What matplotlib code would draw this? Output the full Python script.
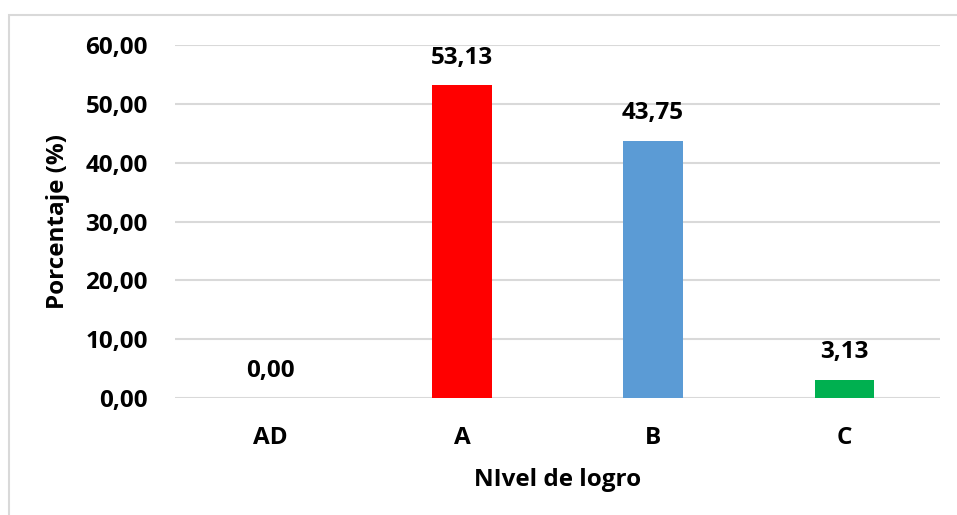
import matplotlib
matplotlib.use("Agg")
import matplotlib.pyplot as plt
from matplotlib.patches import Rectangle

categories = ["AD", "A", "B", "C"]
values = [0.00, 53.13, 43.75, 3.13]
colors = ["#FF0000", "#FF0000", "#5B9BD5", "#00B050"]
yticks = [0, 10, 20, 30, 40, 50, 60]

plt.rcParams['font.family'] = ['Open Sans', 'DejaVu Sans']
plt.rcParams['font.weight'] = 'bold'

FS = 17.5
W, H = 957, 515
fig = plt.figure(figsize=(W/100, H/100), dpi=100)
ax = fig.add_axes([175/W, 1-398/H, (940-175)/W, (398-45)/H])

x = range(len(categories))
ax.bar(x, values, width=0.31, color=colors, zorder=3)
ax.set_xlim(-0.5, 3.5)
ax.set_ylim(0, 60)
ax.set_yticks(yticks)
ax.set_yticklabels([f"{v:.2f}".replace('.', ',') for v in yticks], fontsize=FS, fontweight='bold')
ax.set_xticks(list(x))
ax.set_xticklabels(categories, fontsize=FS, fontweight='bold')
ax.tick_params(axis='y', length=0, pad=19.5)
ax.tick_params(axis='x', length=0, pad=20)
ax.grid(axis='y', color='#D9D9D9', linewidth=1.5, zorder=0)
for s in ax.spines.values():
    s.set_visible(False)

for i, v in enumerate(values):
    ax.text(i, v + 2.6, f"{v:.2f}".replace('.', ','), ha='center', va='bottom',
            fontsize=FS, fontweight='bold')

ax.set_ylabel("Porcentaje (%)", fontsize=FS, fontweight='bold', labelpad=11)
ax.set_xlabel("NIvel de logro", fontsize=FS, fontweight='bold', labelpad=13)

fig.patches.append(Rectangle((9/W, -0.1), 1.2, 1.1 - 15/H, transform=fig.transFigure,
                             fill=False, edgecolor='#D9D9D9', linewidth=1.5))

fig.savefig("out.png", dpi=100)
